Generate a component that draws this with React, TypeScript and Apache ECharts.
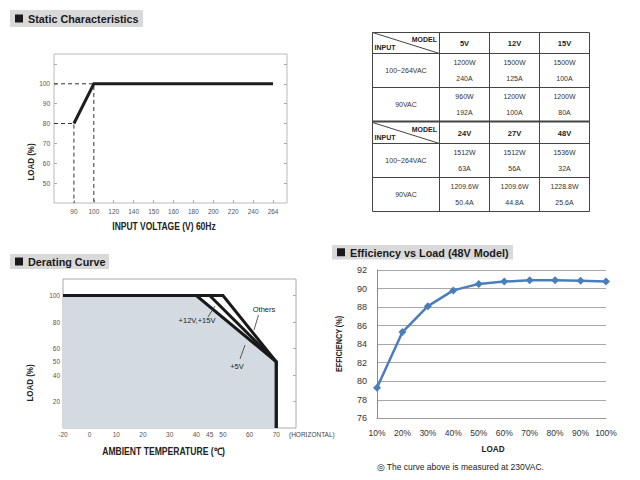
import React, { useEffect, useRef } from "react";
import * as echarts from "echarts";

// ---------- Static characteristics ----------
const staticVoltageLabels = ["90", "100", "120", "140", "150", "160", "180", "200", "220", "240", "264"];
const staticVoltage = ["90", "100", "264"];
const staticLoad = [80, 100, 100];
const staticLoadLabels = [50, 60, 70, 80, 90, 100];

// ---------- Derating curve ----------
const deratingTempLabels = [-20, 0, 10, 20, 30, 40, 45, 50, 60, 70];
const deratingLoadLabels = [20, 40, 50, 60, 80, 100];
const deratingLoadTicks = [20, 40, 60, 80, 100];
const derating12VTemp = [-20, 40, 70, 70];
const derating12VLoad = [100, 100, 50, 0];
const derating5VTemp = [45, 70];
const derating5VLoad = [100, 50];
const deratingOthersTemp = [-20, 50, 70, 70];
const deratingOthersLoad = [100, 100, 50, 0];

// ---------- Efficiency ----------
const effLoads = ["10%", "20%", "30%", "40%", "50%", "60%", "70%", "80%", "90%", "100%"];
const effValues = [79.3, 85.3, 88.1, 89.8, 90.5, 90.75, 90.9, 90.9, 90.85, 90.75];

// ---------- Table ----------
const tableInputs = ["100~264VAC", "90VAC"];
const modelsA = ["5V", "12V", "15V"];
const wattsA = [["1200W", "1500W", "1500W"], ["960W", "1200W", "1200W"]];
const ampsA = [["240A", "125A", "100A"], ["192A", "100A", "80A"]];
const modelsB = ["24V", "27V", "48V"];
const wattsB = [["1512W", "1512W", "1536W"], ["1209.6W", "1209.6W", "1228.8W"]];
const ampsB = [["63A", "56A", "32A"], ["50.4A", "44.8A", "25.6A"]];

const FONT = "'Liberation Sans', Arial, Helvetica, sans-serif";

const vIdx = (v: string) => staticVoltageLabels.indexOf(v) + 1;
const tPos = (t: number) => (t < 0 ? t / 2 : t);
const tLabel = (p: number) => (p < 0 ? String(p * 2) : String(p));

function titleBox(x: number, y: number, w: number, h: number, text: string) {
  return [
    { type: "rect", z: 100, shape: { x, y, width: w, height: h }, style: { fill: "#d9d9d9" }, silent: true },
    { type: "rect", z: 101, shape: { x: x + 5, y: y + (h - 8) / 2, width: 8, height: 8 }, style: { fill: "#1a1a1a" }, silent: true },
    {
      type: "text", z: 101, x: x + 18, y: y + h / 2 + 0.5, scaleX: 0.94, silent: true,
      style: { text, fill: "#1a1a1a", fontFamily: FONT, fontWeight: "bold", fontSize: 11.5, textAlign: "left", textVerticalAlign: "middle" },
    },
  ];
}

function txt(x: number, y: number, text: string, size: number, opts: any = {}) {
  return {
    type: "text", z: 100, x, y, rotation: opts.rotation || 0, scaleX: opts.scaleX || 1, silent: true,
    style: {
      text, fill: opts.color || "#222", fontFamily: FONT, fontWeight: opts.bold ? "bold" : "normal",
      fontSize: size, textAlign: opts.align || "center", textVerticalAlign: "middle",
    },
  };
}

function ln(x1: number, y1: number, x2: number, y2: number, w = 1, color = "#444") {
  return { type: "line", z: 100, silent: true, shape: { x1, y1, x2, y2 }, style: { stroke: color, lineWidth: w } };
}

function buildTable() {
  const els: any[] = [];
  const colX = [372.5, 439.5, 489.5, 539.5, 589.5];
  const top = 32.5, bottom = 211.5;
  const blocks = [
    { y: [32.5, 53.5, 87.5, 121.5], models: modelsA, watts: wattsA, amps: ampsA },
    { y: [121.5, 143.5, 177.5, 211.5], models: modelsB, watts: wattsB, amps: ampsB },
  ];
  els.push({ type: "rect", z: 100, silent: true, shape: { x: colX[0], y: top, width: colX[4] - colX[0], height: bottom - top }, style: { fill: "none", stroke: "#444", lineWidth: 1 } });
  for (let c = 1; c < 4; c++) els.push(ln(colX[c], top, colX[c], bottom));
  blocks.forEach((b, bi) => {
    const [h0, h1, r1, r2] = b.y;
    els.push(ln(colX[0], h1, colX[4], h1));
    els.push(ln(colX[0], r1, colX[4], r1));
    if (bi === 0) els.push(ln(colX[0], r2, colX[4], r2, 2));
    els.push(ln(colX[0], h0 + (bi ? 1 : 0), colX[1], h1, 1));
    els.push(txt(437, h0 + 6.5 + (bi ? 1 : 0), "MODEL", 7, { bold: true, align: "right", color: "#222" }));
    els.push(txt(374.5, h1 - 6.5, "INPUT", 7, { bold: true, align: "left", color: "#222" }));
    b.models.forEach((m, i) => {
      els.push(txt((colX[i + 1] + colX[i + 2]) / 2, (h0 + h1) / 2 + (bi ? 0.5 : 0), m, 7.5, { bold: true, color: "#222" }));
    });
    const rows = [[h1, r1], [r1, r2]];
    rows.forEach(([a, z], ri) => {
      const cy = (a + z) / 2;
      els.push(txt((colX[0] + colX[1]) / 2, cy, tableInputs[ri], 7, { color: "#333" }));
      for (let i = 0; i < 3; i++) {
        const cx = (colX[i + 1] + colX[i + 2]) / 2;
        els.push(txt(cx, cy - 8, b.watts[ri][i], 7, { color: "#333" }));
        els.push(txt(cx, cy + 8, b.amps[ri][i], 7, { color: "#333" }));
      }
    });
  });
  return els;
}

export default function App() {
  const ref = useRef<HTMLDivElement>(null);
  useEffect(() => {
    if (!ref.current) return;
    const chart = echarts.init(ref.current, null, { renderer: "svg" });

    const staticPts = staticVoltage.map((v, i) => [vIdx(v), staticLoad[i]]);
    const staticDash1 = [[0, staticPts[0][1]], staticPts[0], [staticPts[0][0], 40]];
    const staticDash2 = [[0, staticPts[1][1]], staticPts[1], [staticPts[1][0], 40]];

    const d12 = derating12VTemp.map((t, i) => [tPos(t), derating12VLoad[i]]);
    const d5 = derating5VTemp.map((t, i) => [tPos(t), derating5VLoad[i]]);
    const dOthers = deratingOthersTemp.map((t, i) => [tPos(t), deratingOthersLoad[i]]);

    const tickStyle = { show: true, inside: true, length: 3, lineStyle: { color: "#aaa", width: 1 } };
    const smallLabel = { color: "#555", fontSize: 6.5, fontFamily: FONT };

    const option: any = {
      animation: false,
      backgroundColor: "#fff",
      grid: [
        { left: 54, top: 54, width: 233, height: 149, show: true, borderColor: "#bbb", borderWidth: 1, backgroundColor: "#fff" },
        { left: 63, top: 279, width: 233, height: 149, show: true, borderColor: "#aaa", borderWidth: 1, backgroundColor: "#fff" },
        { left: 377, top: 270, width: 229, height: 148.3 },
      ],
      xAxis: [
        {
          type: "value", gridIndex: 0, min: 0, max: 11.7, interval: 1,
          axisLine: { show: false }, splitLine: { show: false },
          axisTick: { ...tickStyle, customValues: staticVoltageLabels.map((_, i) => i + 1) },
          axisLabel: { ...smallLabel, margin: 5, customValues: staticVoltageLabels.map((_, i) => i + 1), formatter: (v: number) => staticVoltageLabels[Math.round(v) - 1] || "" },
        },
        {
          type: "value", gridIndex: 1, min: tPos(-20), max: 77.4,
          axisLine: { show: false }, splitLine: { show: false },
          axisTick: { ...tickStyle, customValues: deratingTempLabels.map(tPos) },
          axisLabel: { ...smallLabel, margin: 3, customValues: deratingTempLabels.map(tPos), formatter: (v: number) => tLabel(v) },
        },
        {
          type: "category", gridIndex: 2, data: effLoads, boundaryGap: false,
          axisLine: { show: true, lineStyle: { color: "#999", width: 1 } },
          axisTick: { show: false },
          axisLabel: { color: "#333", fontSize: 8.5, fontFamily: FONT, margin: 10, interval: 0, hideOverlap: false },
        },
      ],
      yAxis: [
        {
          type: "value", gridIndex: 0, min: 40, max: 115, interval: 10,
          axisLine: { show: false }, splitLine: { show: false },
          axisTick: { ...tickStyle, customValues: [50, 60, 70, 80, 90, 100, 110] },
          axisLabel: { ...smallLabel, margin: 4, customValues: staticLoadLabels },
        },
        {
          type: "value", gridIndex: 0, position: "right", min: 40, max: 115, interval: 10,
          axisLine: { show: false }, splitLine: { show: false }, axisLabel: { show: false },
          axisTick: { ...tickStyle, customValues: [50, 60, 70, 80, 90, 100, 110] },
        },
        {
          type: "value", gridIndex: 1, min: 0, max: 112.5,
          axisLine: { show: false }, splitLine: { show: false },
          axisTick: { show: false },
          axisLabel: { ...smallLabel, margin: 3, customValues: deratingLoadLabels },
        },
        {
          type: "value", gridIndex: 1, position: "right", min: 0, max: 112.5,
          axisLine: { show: false }, splitLine: { show: false }, axisLabel: { show: false },
          axisTick: { ...tickStyle, customValues: deratingLoadTicks },
        },
        {
          type: "value", gridIndex: 2, min: 76, max: 92, interval: 2,
          axisLine: { show: true, lineStyle: { color: "#888", width: 1 } },
          axisTick: { show: false },
          splitLine: { show: true, lineStyle: { color: "#a8a8a8", width: 1 } },
          axisLabel: { color: "#333", fontSize: 9, fontFamily: FONT, margin: 10 },
        },
      ],
      series: [
        { type: "line", xAxisIndex: 0, yAxisIndex: 0, data: staticDash1, symbol: "none", silent: true, lineStyle: { color: "#333", width: 1, type: [4, 3] } },
        { type: "line", xAxisIndex: 0, yAxisIndex: 0, data: staticDash2, symbol: "none", silent: true, lineStyle: { color: "#333", width: 1, type: [4, 3] } },
        { type: "line", xAxisIndex: 0, yAxisIndex: 0, data: staticPts, symbol: "none", silent: true, lineStyle: { color: "#1e1e1e", width: 3, join: "miter" } },
        { type: "line", xAxisIndex: 1, yAxisIndex: 2, data: d12, symbol: "none", silent: true, lineStyle: { color: "#1a1a1a", width: 3, join: "miter" }, areaStyle: { color: "#d3dae1", opacity: 1 } },
        { type: "line", xAxisIndex: 1, yAxisIndex: 2, data: dOthers, symbol: "none", silent: true, lineStyle: { color: "#1a1a1a", width: 3, join: "miter" } },
        { type: "line", xAxisIndex: 1, yAxisIndex: 2, data: d5, symbol: "none", silent: true, lineStyle: { color: "#1a1a1a", width: 3, join: "miter" } },
        {
          type: "line", xAxisIndex: 2, yAxisIndex: 4, data: effValues, symbol: "diamond", symbolSize: 8,
          lineStyle: { color: "#4a7ebb", width: 2.5 }, itemStyle: { color: "#4a7ebb" },
        },
      ],
      graphic: [
        ...titleBox(10, 10, 133, 17, "Static Characteristics"),
        ...titleBox(10, 254, 99, 15, "Derating Curve"),
        ...titleBox(332, 245, 181, 14.5, "Efficiency vs Load (48V Model)"),
        txt(31, 162, "LOAD (%)", 9.3, { bold: true, rotation: Math.PI / 2, scaleX: 0.86, color: "#222" }),
        txt(164, 227, "INPUT VOLTAGE (V) 60Hz", 10, { bold: true, scaleX: 0.85, color: "#222" }),
        txt(30, 383, "LOAD (%)", 9.3, { bold: true, rotation: Math.PI / 2, scaleX: 0.86, color: "#222" }),
        txt(163.5, 451.5, "AMBIENT TEMPERATURE (℃)", 10, { bold: true, scaleX: 0.86, color: "#222" }),
        txt(289, 434, "(HORIZONTAL)", 6.5, { align: "left", color: "#444" }),
        txt(197, 320, "+12V,+15V", 7.5, { color: "#222" }),
        ln(208, 317, 215, 306, 0.8, "#333"),
        txt(264, 309.5, "Others", 7.5, { color: "#222" }),
        ln(258.5, 315, 254, 330, 0.8, "#333"),
        txt(237, 366, "+5V", 7.5, { color: "#222" }),
        ln(240, 359, 245, 345, 0.8, "#333"),
        txt(339, 344, "EFFICIENCY (%)", 9.3, { bold: true, rotation: Math.PI / 2, scaleX: 0.78, color: "#222" }),
        txt(493, 449, "LOAD", 9.3, { bold: true, scaleX: 0.88, color: "#222" }),
        txt(376.5, 466.5, "◎ The curve above is measured at 230VAC.", 8.5, { align: "left", color: "#222" }),
        ...buildTable(),
      ],
    };
    chart.setOption(option);
    return () => chart.dispose();
  }, []);
  return (
    <div
      ref={ref}
      style={{ position: "fixed", left: 0, top: 0, width: 640, height: 480, background: "#fff" }}
    />
  );
}
